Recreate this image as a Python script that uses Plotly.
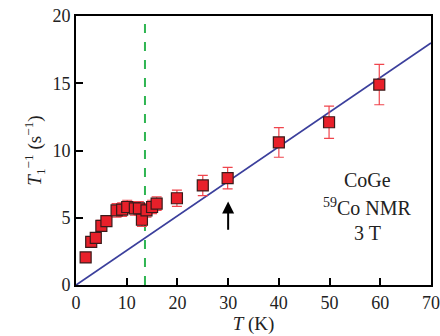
import plotly.graph_objects as go

T = [1.9, 3.0, 3.9, 5.0, 6.0, 8.0, 9.1, 10.1, 11.6, 12.4, 13.0, 13.9, 15.0, 15.9, 19.9, 25.0, 29.9, 40.0, 49.9, 59.8]
rate = [2.05, 3.2, 3.5, 4.4, 4.75, 5.55, 5.6, 5.8, 5.7, 5.7, 4.85, 5.55, 5.8, 6.05, 6.45, 7.4, 7.94, 10.6, 12.1, 14.9]
err = [0.2, 0.3, 0.3, 0.4, 0.4, 0.5, 0.5, 0.5, 0.5, 0.5, 0.5, 0.5, 0.5, 0.5, 0.6, 0.75, 0.8, 1.1, 1.2, 1.5]
fit_T = [0, 70]
fit_rate = [0, 18.0]
tc = 13.6
arrow_T = 30
arrow_tail, arrow_tip = 4.0, 6.2
xticks = [0, 10, 20, 30, 40, 50, 60, 70]
yticks = [0, 5, 10, 15, 20]
label_lines = ["CoGe", "<sup>59</sup>Co NMR", "3 T"]
label_y = [7.8, 5.8, 3.9]

font = "Liberation Serif"

fig = go.Figure()
fig.add_trace(go.Scatter(x=fit_T, y=fit_rate, mode="lines",
                         line=dict(color="#3b3f9c", width=1.8), showlegend=False))
fig.add_trace(go.Scatter(x=[tc, tc], y=[0, 20], mode="lines",
                         line=dict(color="#2fb552", width=2, dash="dash"), showlegend=False))
fig.add_trace(go.Scatter(x=T, y=rate, mode="markers",
                         marker=dict(symbol="square", size=11, color="#e8202a",
                                     line=dict(color="#3a1a1a", width=1.2)),
                         error_y=dict(type="data", array=err, color="#f0454d", thickness=1.2, width=5),
                         showlegend=False))

fig.add_annotation(x=arrow_T, y=arrow_tip, ax=arrow_T, ay=arrow_tail, xref="x", yref="y",
                   axref="x", ayref="y", showarrow=True, arrowhead=2, arrowsize=1.2,
                   arrowwidth=2, arrowcolor="black", text="")
for txt, yy in zip(label_lines, label_y):
    fig.add_annotation(x=57.4, y=yy, xref="x", yref="y", showarrow=False,
                       text=txt, align="center",
                       font=dict(family=font, size=20, color="#222"))

axis_common = dict(showline=True, linecolor="black", linewidth=2, mirror=True,
                   ticks="inside", ticklen=7, tickwidth=2, tickcolor="black",
                   showgrid=False, zeroline=False, automargin=False,
                   tickfont=dict(family=font, size=18, color="#222"))
fig.update_xaxes(range=[0, 70], tickvals=xticks, **axis_common,
                 title=dict(text="<i>T</i> (K)", font=dict(family=font, size=19, color="#222"), standoff=4))
fig.update_yaxes(range=[0, 20], tickvals=yticks, **axis_common,
                 title=dict(text="<i>T</i><sub>1</sub><sup>−1</sup> (s<sup>−1</sup>)",
                            font=dict(family=font, size=19, color="#222"), standoff=6))
fig.update_layout(width=440, height=336, margin=dict(l=76, r=9, t=16, b=51),
                  plot_bgcolor="white", paper_bgcolor="white",
                  font=dict(family=font))
fig.write_html("out.html")
